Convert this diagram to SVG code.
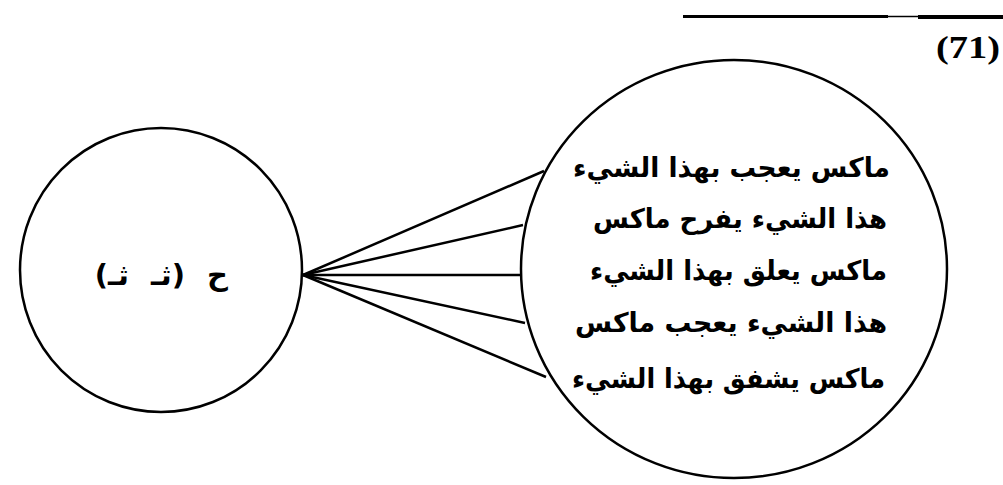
<svg xmlns="http://www.w3.org/2000/svg" width="1003" height="485" viewBox="0 0 1003 485">
<style>
.shape{fill:none;stroke:#000;stroke-width:2.5}
.conn line{stroke:#000;stroke-width:2.5}
.ar{font-family:"DejaVu Sans",sans-serif;font-weight:bold;font-size:27px;fill:#000;text-anchor:end}
.lbl{font-size:29px;word-spacing:12px}
.num{font-family:"Liberation Serif",serif;font-weight:bold;font-size:32px;fill:#000;text-anchor:end}
</style>
<rect width="1003" height="485" fill="#fff"/>
<g id="header">
<line x1="683" y1="16.5" x2="888" y2="16.5" stroke="#000" stroke-width="3"/>
<line x1="888" y1="16.5" x2="918" y2="16.5" stroke="#000" stroke-width="1.5"/>
<line x1="918" y1="17" x2="1003" y2="17" stroke="#000" stroke-width="4"/>
<text class="num" x="1000" y="58" textLength="64" lengthAdjust="spacingAndGlyphs">(71)</text>
</g>
<g id="node-left">
<ellipse class="shape" cx="161" cy="270" rx="141" ry="142"/>
<text class="ar lbl" x="228" y="285">ح (ثـ ثـ)</text>
</g>
<g id="node-right">
<ellipse class="shape" cx="734" cy="269" rx="213" ry="209"/>
<text class="ar" x="890" y="177" textLength="317" lengthAdjust="spacingAndGlyphs">ماكس يعجب بهذا الشيء</text>
<text class="ar" x="887" y="228" textLength="294" lengthAdjust="spacingAndGlyphs">هذا الشيء يفرح ماكس</text>
<text class="ar" x="887" y="280" textLength="297" lengthAdjust="spacingAndGlyphs">ماكس يعلق بهذا الشيء</text>
<text class="ar" x="887" y="332" textLength="312" lengthAdjust="spacingAndGlyphs">هذا الشيء يعجب ماكس</text>
<text class="ar" x="885" y="388" textLength="313" lengthAdjust="spacingAndGlyphs">ماكس يشفق بهذا الشيء</text>
</g>
<g id="connectors" class="conn">
<line x1="303" y1="275" x2="544" y2="171"/>
<line x1="303" y1="275" x2="523" y2="225"/>
<line x1="303" y1="275" x2="521" y2="275"/>
<line x1="303" y1="275" x2="525" y2="323"/>
<line x1="303" y1="275" x2="546" y2="377"/>
</g>
</svg>
